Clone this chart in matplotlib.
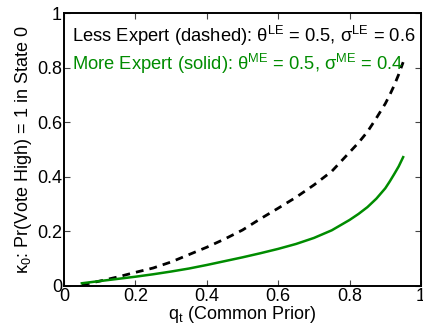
import numpy as np
import matplotlib
matplotlib.use("Agg")
from matplotlib import pyplot as plt

plt.rcParams['font.family'] = ['Liberation Sans', 'DejaVu Sans']
plt.rcParams['mathtext.fontset'] = 'custom'
plt.rcParams['mathtext.rm'] = 'Liberation Sans'
plt.rcParams['mathtext.it'] = 'Liberation Sans'
plt.rcParams['mathtext.default'] = 'regular'

# common prior q_t
q_prior = [0.05, 0.10, 0.15, 0.20, 0.25, 0.30, 0.35, 0.40, 0.45, 0.50,
           0.55, 0.60, 0.65, 0.70, 0.75, 0.80, 0.825, 0.85, 0.875, 0.90,
           0.9125, 0.925, 0.9375, 0.95]
# kappa_0, less expert (theta=0.5, sigma=0.6)
kappa_less = [0.004, 0.018, 0.033, 0.050, 0.066, 0.088, 0.115, 0.142, 0.172, 0.205,
              0.246, 0.285, 0.325, 0.370, 0.420, 0.490, 0.525, 0.565, 0.615, 0.668,
              0.700, 0.735, 0.775, 0.820]
# kappa_0, more expert (theta=0.5, sigma=0.4)
kappa_more = [0.010, 0.018, 0.026, 0.034, 0.043, 0.053, 0.064, 0.077, 0.091, 0.105,
              0.120, 0.136, 0.154, 0.176, 0.204, 0.242, 0.264, 0.289, 0.320, 0.358,
              0.383, 0.410, 0.438, 0.472]

xticks = [0, 0.2, 0.4, 0.6, 0.8, 1]
yticks = [0, 0.2, 0.4, 0.6, 0.8, 1]
ticklabels = ['0', '0.2', '0.4', '0.6', '0.8', '1']

green = (0, 0.55, 0)

fig = plt.figure(figsize=(4.23, 3.27), dpi=100)
ax = fig.add_axes([64/423, 1 - 286/327, 357/423, 273/327])

ax.plot(q_prior, kappa_less, color='k', lw=2, ls=(0, (2.8, 2.2)))
ax.plot(q_prior, kappa_more, color=green, lw=1.8)

ax.set_xlim(0, 1)
ax.set_ylim(0, 1)
ax.set_xticks(xticks)
ax.set_yticks(yticks)
ax.set_xticklabels(ticklabels)
ax.set_yticklabels(ticklabels)
ax.tick_params(direction='in', length=4, width=0.8, labelsize=13, pad=1.5,
               top=True, right=True, color='#444444')
for s in ax.spines.values():
    s.set_linewidth(1.4)

ax.set_xlabel('q$_t$ (Common Prior)', fontsize=13, labelpad=-1)
ax.set_ylabel('κ$_0$: Pr(Vote High) = 1 in State 0', fontsize=13, labelpad=2)

ax.text(0.022, 0.915, 'Less Expert (dashed): θ$^{LE}$ = 0.5, σ$^{LE}$ = 0.6',
        transform=ax.transAxes, fontsize=13.2, color='k', va='center')
ax.text(0.022, 0.815, 'More Expert (solid): θ$^{ME}$ = 0.5, σ$^{ME}$ = 0.4',
        transform=ax.transAxes, fontsize=13.2, color=green, va='center')

fig.savefig('out.png', dpi=100)
